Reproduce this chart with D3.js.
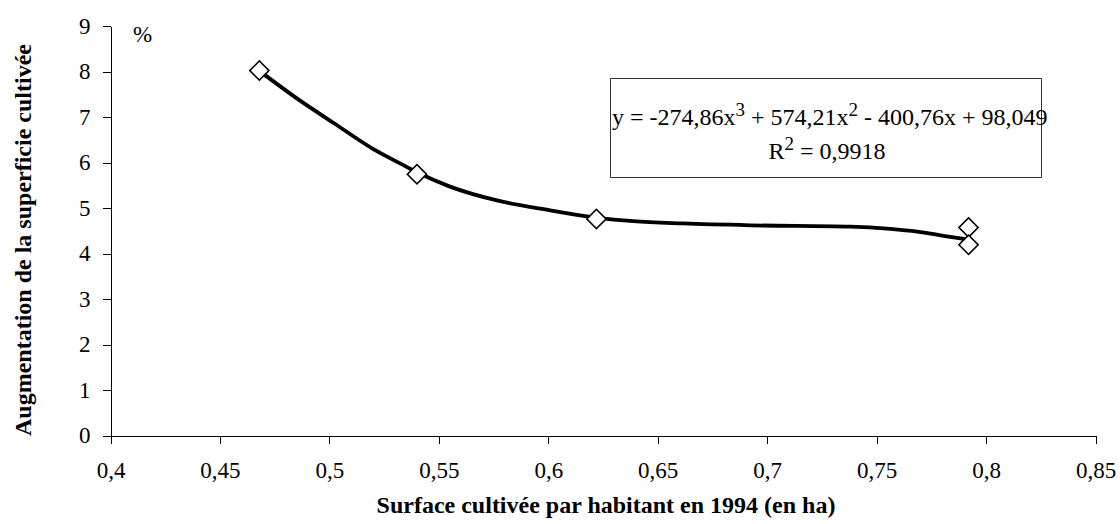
<!DOCTYPE html>
<html>
<head>
<meta charset="utf-8">
<script src="https://cdn.jsdelivr.net/npm/d3@7"></script>
<style>
	body { margin: 0; background: #fff; }
	text { font-family: "Liberation Serif", "Times New Roman", serif; fill: #000; }
	.axis path, .axis line { stroke: #000; stroke-width: 1; shape-rendering: crispEdges; }
	.axis text { font-size: 23px; font-family: "Liberation Serif", serif; }
	.title { font-weight: bold; font-size: 24px; }
</style>
</head>
<body>
<svg id="chart" width="1120" height="524"></svg>
<script>
// observed points
const pointX = [0.468, 0.54, 0.622, 0.792, 0.792];
const pointY = [8.02, 5.74, 4.76, 4.57, 4.19];

// trend curve
const trendX = [0.4678, 0.4866, 0.5016, 0.5199, 0.5323, 0.5398, 0.5551, 0.578, 0.6008, 0.6218,
	0.6388, 0.6616, 0.6923, 0.738, 0.7562, 0.7686, 0.7805, 0.7914];
const trendY = [8.02, 7.36, 6.88, 6.3, 5.98, 5.79, 5.47, 5.15, 4.95, 4.79,
	4.71, 4.66, 4.62, 4.59, 4.54, 4.48, 4.39, 4.31];

const xTicks = [0.4, 0.45, 0.5, 0.55, 0.6, 0.65, 0.7, 0.75, 0.8, 0.85];
const yTicks = [0, 1, 2, 3, 4, 5, 6, 7, 8, 9];

const svg = d3.select("#chart");
const fr = d3.formatLocale({ decimal: ",", thousands: " ", grouping: [3], currency: ["", " €"] });

const x = d3.scaleLinear().domain([0.4, 0.85]).range([110.5, 1095.5]);
const y = d3.scaleLinear().domain([0, 9]).range([435.5, 26]);

svg.append("g")
	.attr("class", "axis")
	.attr("transform", "translate(0," + y(0) + ")")
	.call(d3.axisBottom(x).tickValues(xTicks).tickFormat(fr.format("~g")).tickSize(8).tickSizeOuter(0).tickPadding(18));

svg.append("g")
	.attr("class", "axis")
	.attr("transform", "translate(" + x(0.4) + ",0)")
	.call(d3.axisLeft(y).tickValues(yTicks).tickSize(8).tickSizeOuter(0).tickPadding(12));

svg.append("text").attr("x", 133).attr("y", 42).style("font-size", "23px").text("%");

// axis titles
svg.append("text")
	.attr("class", "title")
	.attr("x", (x.range()[0] + x.range()[1]) / 2 + 3)
	.attr("y", 513)
	.attr("text-anchor", "middle")
	.text("Surface cultivée par habitant en 1994 (en ha)");

svg.append("text")
	.attr("class", "title")
	.attr("transform", "translate(31,240) rotate(-90)")
	.attr("text-anchor", "middle")
	.text("Augmentation de la superficie cultivée");

// trend line
const line = d3.line().x((d) => x(d[0])).y((d) => y(d[1])).curve(d3.curveMonotoneX);
svg.append("path")
	.datum(d3.zip(trendX, trendY))
	.attr("d", line)
	.attr("fill", "none")
	.attr("stroke", "#000")
	.attr("stroke-width", 3.8)
	.attr("stroke-linejoin", "round");

// markers
const diamond = d3.symbol().type(d3.symbolSquare).size(185);
svg.selectAll("path.pt")
	.data(d3.zip(pointX, pointY))
	.join("path")
	.attr("class", "pt")
	.attr("d", diamond)
	.attr("transform", (d) => "translate(" + x(d[0]) + "," + y(d[1]) + ") rotate(45)")
	.attr("fill", "#fff")
	.attr("stroke", "#000")
	.attr("stroke-width", 1.6);

// equation box
svg.append("rect")
	.attr("x", 610.5).attr("y", 78.5).attr("width", 431).attr("height", 99)
	.attr("fill", "none").attr("stroke", "#333").attr("stroke-width", 1);

const eq = svg.append("text").attr("x", 612).attr("y", 125).style("font-size", "24px");
eq.append("tspan").text("y = -274,86x");
eq.append("tspan").attr("dy", -9).style("font-size", "19px").text("3");
eq.append("tspan").attr("dy", 9).text(" + 574,21x");
eq.append("tspan").attr("dy", -9).style("font-size", "19px").text("2");
eq.append("tspan").attr("dy", 9).text(" - 400,76x + 98,049");

const r2 = svg.append("text").attr("x", 827).attr("y", 159).attr("text-anchor", "middle").style("font-size", "24px");
r2.append("tspan").text("R");
r2.append("tspan").attr("dy", -9).style("font-size", "19px").text("2");
r2.append("tspan").attr("dy", 9).text(" = 0,9918");
</script>
</body>
</html>
